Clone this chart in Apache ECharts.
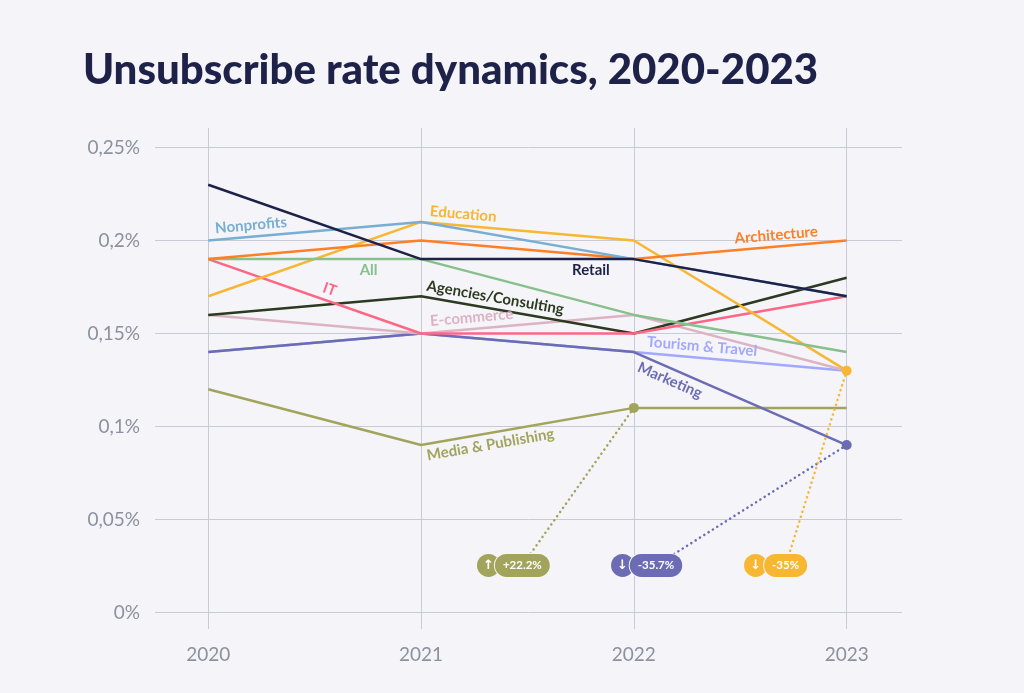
<!DOCTYPE html>
<html>
<head>
<meta charset="utf-8">
<title>Unsubscribe rate dynamics, 2020-2023</title>
<script src="https://cdn.jsdelivr.net/npm/echarts@6/dist/echarts.min.js"></script>
<style>
  html, body { margin: 0; padding: 0; background: #f4f4f9; }
  #chart { width: 1024px; height: 693px; }
</style>
</head>
<body>
<div id="chart"></div>
<script>
// Years on the x axis
const years = [2020, 2021, 2022, 2023];

// Unsubscribe rate per industry, in %
const retail = [0.23, 0.19, 0.19, 0.17];
const nonprofits = [0.20, 0.21, 0.19, 0.17];
const architecture = [0.19, 0.20, 0.19, 0.20];
const all = [0.19, 0.19, 0.16, 0.14];
const education = [0.17, 0.21, 0.20, 0.13];
const it = [0.19, 0.15, 0.15, 0.17];
const agencies = [0.16, 0.17, 0.15, 0.18];
const ecommerce = [0.16, 0.15, 0.16, 0.13];
const tourism = [0.14, 0.15, 0.14, 0.13];
const marketing = [0.14, 0.15, 0.14, 0.09];
const media = [0.12, 0.09, 0.11, 0.11];

// Y tick values
const yTicks = [0, 0.05, 0.1, 0.15, 0.2, 0.25];

const bg = '#f4f4f9';
const labelFont = 'Lato, "DejaVu Sans", sans-serif';

// name, values, colour, and where its name sits along the line (segment, position, nudge)
const lines = [
    {name: 'Media & Publishing', values: media, color: '#a2a45c', seg: 1, pos: 'insideStartBottom', pad: [0, 0, 0, 0]},
    {name: 'Tourism & Travel', values: tourism, color: '#a3a8ff', seg: 2, pos: 'insideStartTop', pad: [0, 0, 0, 8]},
    {name: 'Marketing', values: marketing, color: '#6c6cb4', seg: 2, pos: 'insideStartBottom', pad: [0, 0, 0, 6]},
    {name: 'E-commerce', values: ecommerce, color: '#dcb3c3', seg: 1, pos: 'insideStartTop', pad: [0, 0, 0, 6]},
    {name: 'Agencies/Consulting', values: agencies, color: '#2c3a1f', seg: 1, pos: 'insideStartTop', pad: [0, 0, 0, 0]},
    {name: 'IT', values: it, color: '#ff6685', seg: 0, pos: 'insideMiddleTop', pad: [0, 0, 0, 24]},
    {name: 'Education', values: education, color: '#f7b733', seg: 1, pos: 'insideStartTop', pad: [0, 0, 0, 4]},
    {name: 'All', values: all, color: '#88c08c', seg: 0, pos: 'insideMiddleBottom', pad: [0, 0, 0, 108]},
    {name: 'Architecture', values: architecture, color: '#ff7f24', seg: 2, pos: 'insideEndTop', pad: [0, 24, 0, 0]},
    {name: 'Nonprofits', values: nonprofits, color: '#78aed2', seg: 0, pos: 'insideStartTop', pad: [0, 0, 0, 4]},
    {name: 'Retail', values: retail, color: '#1e2249', seg: 1, pos: 'insideEndBottom', pad: [0, 20, 0, 0]}
];

// Change badges: which line, which years are compared, where the badge sits
const badges = [
    {name: 'Media & Publishing', from: 1, to: 2, arrowX: 2021.317, pillX: 2021.476},
    {name: 'Marketing', from: 2, to: 3, arrowX: 2021.947, pillX: 2022.104},
    {name: 'Education', from: 2, to: 3, arrowX: 2022.572, pillX: 2022.713}
];
const badgeY = 0.0253;

// Formats 0.15 as "0,15%"
const formatRate = (v) => String(Math.round(v * 100) / 100).replace('.', ',') + '%';

// Builds the badge markers for a line
const badgeFor = (line) => {
    const badge = badges.find(b => b.name === line.name);
    if (!badge) {
        return {markPoint: undefined, markLines: []};
    }
    const v = line.values;
    const change = parseFloat(((v[badge.to] - v[badge.from]) / v[badge.from] * 100).toFixed(1));
    const text = (change > 0 ? '+' : '') + change + '%';
    const arrow = change > 0 ? '↑' : '↓';
    const point = [years[badge.to], v[badge.to]];
    return {
        markPoint: {
            silent: true,
            data: [
                {
                    coord: point, symbol: 'circle', symbolSize: 10,
                    itemStyle: {color: line.color},
                    label: {show: false}
                },
                {
                    coord: [badge.arrowX, badgeY], symbol: 'circle', symbolSize: 23,
                    itemStyle: {color: line.color},
                    label: {
                        show: true, position: 'inside', formatter: arrow,
                        color: '#fff', fontSize: 13, fontWeight: 'bold',
                        fontFamily: '"DejaVu Sans", sans-serif'
                    }
                },
                {
                    coord: [badge.pillX, badgeY], symbol: 'rect', symbolSize: 1,
                    itemStyle: {color: 'rgba(0,0,0,0)'},
                    label: {
                        show: true, position: 'inside', formatter: text,
                        color: '#fff', fontSize: 11.5, fontWeight: 'bold', fontFamily: labelFont,
                        backgroundColor: line.color, borderRadius: 12,
                        borderColor: bg, borderWidth: 1,
                        padding: [5, 8], lineHeight: 13
                    }
                }
            ]
        },
        markLines: [
            [
                {
                    coord: point,
                    lineStyle: {color: line.color, width: 2.5, type: [0.1, 5], cap: 'round', opacity: 1},
                    label: {show: false}
                },
                {coord: [badge.pillX, badgeY]}
            ]
        ]
    };
};

// Builds a line series with its name label and badge
const buildSeries = (line) => {
    const v = line.values;
    const s = line.seg;
    const badge = badgeFor(line);
    const nameLine = [
        {
            coord: [years[s], v[s]],
            lineStyle: {color: 'rgba(0,0,0,0)', width: 0},
            label: {
                show: true, position: line.pos, formatter: line.name, opacity: 1,
                color: line.color, fontSize: 15, fontWeight: 'bold', fontFamily: labelFont,
                distance: 4, padding: line.pad
            }
        },
        {coord: [years[s + 1], v[s + 1]]}
    ];
    return {
        name: line.name,
        type: 'line',
        data: years.map((y, i) => [y, v[i]]),
        symbol: 'none',
        lineStyle: {color: line.color, width: 2.5},
        itemStyle: {color: line.color},
        emphasis: {disabled: true},
        markLine: {
            silent: true,
            symbol: ['none', 'none'],
            data: [nameLine].concat(badge.markLines)
        },
        markPoint: badge.markPoint
    };
};

const chart = echarts.init(document.getElementById('chart'));
chart.setOption({
    backgroundColor: bg,
    animation: false,
    title: {
        text: 'Unsubscribe rate dynamics, 2020-2023',
        left: 78,
        top: 44,
        textStyle: {
            color: '#1e2249',
            fontSize: 42,
            fontWeight: 900,
            fontFamily: labelFont
        }
    },
    grid: {left: 155, right: 122, top: 128, bottom: 64},
    xAxis: {
        type: 'value',
        min: 2019.75,
        max: 2023.26,
        axisLine: {show: false},
        axisTick: {show: false, customValues: years},
        axisLabel: {
            customValues: years,
            formatter: (v) => String(v),
            color: '#8c919e',
            fontSize: 19,
            fontFamily: labelFont,
            margin: 16
        },
        splitLine: {show: true, lineStyle: {color: '#c9cbd4', width: 1}}
    },
    yAxis: {
        type: 'value',
        min: -0.0089,
        max: 0.2605,
        axisLine: {show: false},
        axisTick: {show: false, customValues: yTicks},
        axisLabel: {
            customValues: yTicks,
            formatter: formatRate,
            color: '#8c919e',
            fontSize: 19,
            fontFamily: labelFont,
            margin: 15
        },
        splitLine: {show: true, lineStyle: {color: '#c9cbd4', width: 1}}
    },
    series: lines.map(buildSeries)
});
</script>
</body>
</html>
